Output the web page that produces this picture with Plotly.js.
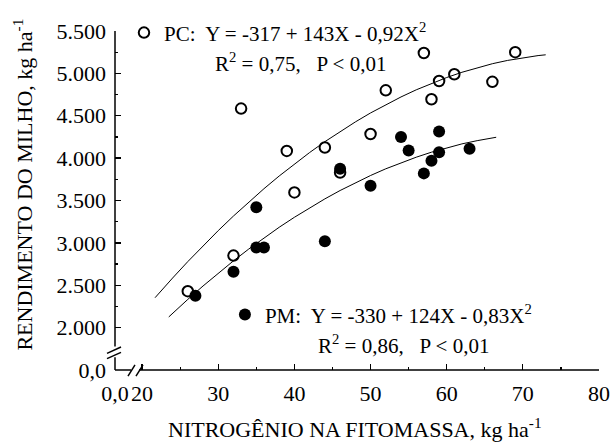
<!DOCTYPE html>
<html>
<head>
<meta charset="utf-8">
<script src="https://cdn.plot.ly/plotly-3.0.1.min.js"></script>
<style>html,body{margin:0;padding:0;background:#fff}#chart{width:616px;height:444px}</style>
</head>
<body>
<div id="chart"></div>
<script>
// ---- data ----
const pcX = [26, 32, 33, 39, 40, 44, 46, 50, 52, 57, 58, 59, 61, 66, 69];
const pcY = [2430, 2850, 4585, 4085, 3595, 4125, 3830, 4285, 4800, 5240, 4695, 4910, 4990, 4900, 5250];
const pmX = [27, 32, 35, 35, 36, 44, 46, 50, 54, 55, 57, 58, 59, 59, 63];
const pmY = [2375, 2660, 3420, 2945, 2945, 3020, 3875, 3675, 4250, 4090, 3820, 3970, 4315, 4070, 4110];

// fitted curves (values of the printed regression equations)
const pcFitX = [21.7, 22, 24, 26, 28, 30, 32, 34, 36, 38, 40, 42, 44, 46, 48, 50, 52, 54, 56, 58, 60, 62, 64, 66, 68, 70, 72, 73];
const pcFitY = [2353, 2384, 2585, 2779, 2966, 3145, 3317, 3482, 3639, 3789, 3931, 4066, 4194, 4314, 4427, 4533, 4631, 4722, 4806, 4882, 4951, 5013, 5067, 5114, 5153, 5185, 5210, 5219];
const pmFitX = [23.5, 24, 26, 28, 30, 32, 34, 36, 38, 40, 42, 44, 46, 48, 50, 52, 54, 56, 58, 60, 62, 64, 66, 66.5];
const pmFitY = [2126, 2168, 2333, 2491, 2643, 2788, 2927, 3058, 3184, 3302, 3414, 3519, 3618, 3710, 3795, 3874, 3946, 4011, 4070, 4122, 4168, 4206, 4239, 4246];

const xTickVals = [16.45, 20, 30, 40, 50, 60, 70, 80];
const xTickText = ['0,0', '20', '30', '40', '50', '60', '70', '80'];
const xMinorVals = [25, 35, 45, 55, 65, 75];
const yTickVals = [1501, 2000, 2500, 3000, 3500, 4000, 4500, 5000, 5500];
const yTickText = ['0,0', '2.000', '2.500', '3.000', '3.500', '4.000', '4.500', '5.000', '5.500'];
const yMinorVals = [2250, 2750, 3250, 3750, 4250, 4750, 5250];

const pcLabel = 'PC:&nbsp; Y = -317 + 143X - 0,92X<sup>2</sup>';
const pcStats = 'R<sup>2</sup> = 0,75,&nbsp;&nbsp; P &lt; 0,01';
const pmLabel = 'PM:&nbsp; Y = -330 + 124X - 0,83X<sup>2</sup>';
const pmStats = 'R<sup>2</sup> = 0,86,&nbsp;&nbsp; P &lt; 0,01';
const xTitle = 'NITROGÊNIO NA FITOMASSA, kg ha<sup>-1</sup>';
const yTitle = 'RENDIMENTO DO MILHO, kg ha<sup>-1</sup>';

// ---- geometry ----
const W = 616, H = 444;
const L = 115, R = 599.3, T = 20.7, B = 370.2;
const px = v => (v - L) / (R - L);
const py = v => (B - v) / (B - T);
const FAMILY = 'Liberation Serif, serif';

const traces = [
  {x: pcFitX, y: pcFitY, mode: 'lines', line: {color: '#000', width: 1}, showlegend: false, hoverinfo: 'skip'},
  {x: pmFitX, y: pmFitY, mode: 'lines', line: {color: '#000', width: 1}, showlegend: false, hoverinfo: 'skip'},
  {x: pcX, y: pcY, mode: 'markers', name: pcLabel, legend: 'legend',
   marker: {symbol: 'circle-open', size: 10.5, color: '#000', line: {width: 2, color: '#000'}}},
  {x: pmX, y: pmY, mode: 'markers', name: pmLabel, legend: 'legend2',
   marker: {symbol: 'circle', size: 12, color: '#000', line: {width: 0}}}
];

const lineStyle = {color: '#000', width: 1.5};
const shapes = [
  // y axis (with break)
  {type: 'line', xref: 'paper', yref: 'paper', x0: 0, x1: 0, y0: 1, y1: py(346), line: lineStyle},
  {type: 'line', xref: 'paper', yref: 'paper', x0: 0, x1: 0, y0: py(357), y1: 0, line: lineStyle},
  {type: 'line', xref: 'paper', yref: 'paper', x0: px(107), x1: px(121), y0: py(353), y1: py(346.5), line: lineStyle},
  {type: 'line', xref: 'paper', yref: 'paper', x0: px(107), x1: px(121), y0: py(358.5), y1: py(352), line: lineStyle},
  // x axis (with break)
  {type: 'line', xref: 'paper', yref: 'paper', x0: 0, x1: px(131), y0: 0, y1: 0, line: lineStyle},
  {type: 'line', xref: 'paper', yref: 'paper', x0: px(139), x1: 1, y0: 0, y1: 0, line: lineStyle},
  {type: 'line', xref: 'paper', yref: 'paper', x0: px(128), x1: px(135), y0: py(376.5), y1: py(365), line: lineStyle},
  {type: 'line', xref: 'paper', yref: 'paper', x0: px(136), x1: px(143), y0: py(376.5), y1: py(365), line: lineStyle}
];

const font = {family: FAMILY, size: 22, color: '#000'};
const eqFont = {family: FAMILY, size: 21, color: '#000'};
const annotations = [
  {text: pcStats, xref: 'paper', yref: 'paper', x: px(213), y: py(53.5), xanchor: 'left', yanchor: 'middle', showarrow: false, font: eqFont},
  {text: pmStats, xref: 'paper', yref: 'paper', x: px(316.5), y: py(343.5), xanchor: 'left', yanchor: 'middle', showarrow: false, font: eqFont},
  {text: xTitle, xref: 'paper', yref: 'paper', x: px(355), y: py(430), xanchor: 'center', yanchor: 'middle', showarrow: false, font: font},
  {text: yTitle, xref: 'paper', yref: 'paper', x: px(22), y: py(179), xanchor: 'center', yanchor: 'middle', textangle: -90, showarrow: false, font: font}
];

const axisCommon = {
  showgrid: false, zeroline: false, showline: false,
  ticks: 'inside', ticklen: 6, tickwidth: 1.3, tickcolor: '#000',
  tickmode: 'array', tickfont: font, fixedrange: true, ticklabelstandoff: 8
};

const layout = {
  width: W, height: H,
  margin: {l: L, r: W - R, t: T, b: H - B, pad: 0},
  paper_bgcolor: '#fff', plot_bgcolor: '#fff',
  font: font,
  xaxis: Object.assign({}, axisCommon, {
    range: [16.44, 80], tickvals: xTickVals, ticktext: xTickText,
    minor: {tickmode: 'array', tickvals: xMinorVals, ticks: 'inside', ticklen: 3, tickwidth: 1.3, tickcolor: '#000'}
  }),
  yaxis: Object.assign({}, axisCommon, {
    range: [1500, 5500], tickvals: yTickVals, ticktext: yTickText,
    minor: {tickmode: 'array', tickvals: yMinorVals, ticks: 'inside', ticklen: 3, tickwidth: 1.3, tickcolor: '#000'}
  }),
  showlegend: true,
  legend: {x: px(124), y: py(22.7), xanchor: 'left', yanchor: 'middle', bgcolor: 'rgba(0,0,0,0)', borderwidth: 0, font: eqFont},
  legend2: {x: px(225), y: py(313.3), xanchor: 'left', yanchor: 'middle', bgcolor: 'rgba(0,0,0,0)', borderwidth: 0, font: eqFont},
  shapes: shapes,
  annotations: annotations
};

Plotly.newPlot('chart', traces, layout, {staticPlot: true, displayModeBar: false});
</script>
</body>
</html>
